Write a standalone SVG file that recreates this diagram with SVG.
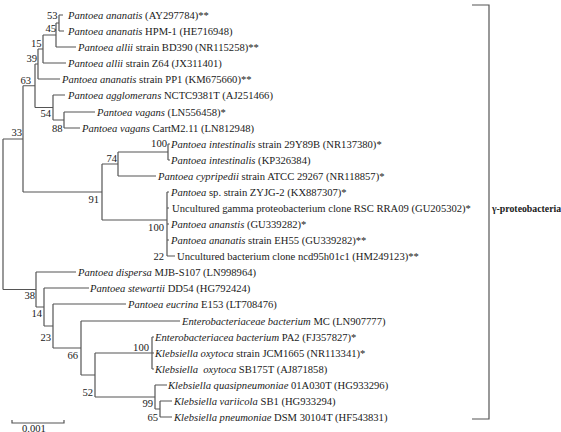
<svg xmlns="http://www.w3.org/2000/svg" width="561" height="432" viewBox="0 0 561 432">
<style>
text{font-family:"Liberation Serif","Times New Roman",serif;font-size:10.6px;fill:#1a1a1a}
.i{font-style:italic}
.bs{text-anchor:end}
.br{fill:none;stroke:#555;stroke-width:1.2}
.cl{font-weight:bold;font-size:9.8px}
</style>
<rect width="561" height="432" fill="#fff"/>
<g id="connectors" class="br">
<path d="M59,15V31M59,15H63M59,31H64"/>
<path d="M56,23V47M56,23H59M56,47H76"/>
<path d="M43,35V63M43,35H56M43,63H66"/>
<path d="M38,49V79M38,49H43M38,79H60"/>
<path d="M64,112V128M64,112H95M64,128H80"/>
<path d="M53,95V120M53,120H64M53,95H65"/>
<path d="M35,64V107.5M35,64H38M35,107.5H53"/>
<path d="M168,144V160M168,144H170M168,160H170"/>
<path d="M118,152V176M118,152H168M118,176H156"/>
<path d="M167,192V256M167,192H169M167,208H169M167,224H169M167,240H169M167,256H175"/>
<path d="M102,164V220M102,164H118M102,220H167"/>
<path d="M23,85.75V192M23,85.75H35M23,192H102"/>
<path d="M160,401V417M160,401H172M160,417H172"/>
<path d="M155,385V409M155,385H167M155,409H160"/>
<path d="M152,337V369M152,337H154M152,353H154M152,369H154"/>
<path d="M95,353V397M95,353H152M95,397H155"/>
<path d="M81,321V375M81,321H180M81,375H95"/>
<path d="M53,304V348M53,304H126M53,348H81"/>
<path d="M44,288V326M44,288H89M44,326H53"/>
<path d="M36,272V307M36,272H76M36,307H44"/>
<path d="M3,139V289.5M3,139H23M3,289.5H36"/>
<path d="M472,5H489V419H472"/>
<path d="M12,420V423H64V420"/>
</g>
<g id="bootstrap">
<text class="bs" x="57.5" y="18.5">53</text>
<text class="bs" x="56" y="31.5">45</text>
<text class="bs" x="41.5" y="46.5">15</text>
<text class="bs" x="37" y="61.5">39</text>
<text class="bs" x="31" y="83.5">63</text>
<text class="bs" x="51" y="116.5">54</text>
<text class="bs" x="62.5" y="131.5">88</text>
<text class="bs" x="22" y="135.5">33</text>
<text class="bs" x="167" y="146.5">100</text>
<text class="bs" x="117" y="161.5">74</text>
<text class="bs" x="99" y="202.5">91</text>
<text class="bs" x="164" y="230.5">100</text>
<text class="bs" x="164" y="259.5">22</text>
<text class="bs" x="35" y="298.5">38</text>
<text class="bs" x="42" y="316.5">14</text>
<text class="bs" x="51" y="340.5">23</text>
<text class="bs" x="78" y="358.5">66</text>
<text class="bs" x="149" y="350.5">100</text>
<text class="bs" x="93" y="395.5">52</text>
<text class="bs" x="153" y="406.5">99</text>
<text class="bs" x="158" y="420.5">65</text>
</g>
<g id="leaf1"><text x="68" y="18.5"><tspan class="i">Pantoea ananatis</tspan> (AY297784)**</text></g>
<g id="leaf2"><text x="68" y="34.5"><tspan class="i">Pantoea ananatis</tspan> HPM-1 (HE716948)</text></g>
<g id="leaf3"><text x="78" y="50.5"><tspan class="i">Pantoea allii</tspan> strain BD390 (NR115258)**</text></g>
<g id="leaf4"><text x="68" y="66.5"><tspan class="i">Pantoea allii</tspan> strain Z64 (JX311401)</text></g>
<g id="leaf5"><text x="62" y="82.5"><tspan class="i">Pantoea ananatis</tspan> strain PP1 (KM675660)**</text></g>
<g id="leaf6"><text x="68" y="98.5"><tspan class="i">Pantoea agglomerans</tspan> NCTC9381T (AJ251466)</text></g>
<g id="leaf7"><text x="97" y="115.5"><tspan class="i">Pantoea vagans</tspan> (LN556458)*</text></g>
<g id="leaf8"><text x="82" y="131.5"><tspan class="i">Pantoea vagans</tspan> CartM2.11 (LN812948)</text></g>
<g id="leaf9"><text x="171" y="147.5"><tspan class="i">Pantoea intestinalis</tspan> strain 29Y89B (NR137380)*</text></g>
<g id="leaf10"><text x="171" y="163.5"><tspan class="i">Pantoea intestinalis</tspan> (KP326384)</text></g>
<g id="leaf11"><text x="158" y="179.5"><tspan class="i">Pantoea cypripedii</tspan> strain ATCC 29267 (NR118857)*</text></g>
<g id="leaf12"><text x="171" y="195.5"><tspan class="i">Pantoea</tspan> sp. strain ZYJG-2 (KX887307)*</text></g>
<g id="leaf13"><text x="172" y="211.5">Uncultured gamma proteobacterium clone RSC RRA09 (GU205302)*</text></g>
<g id="leaf14"><text x="171" y="227.5"><tspan class="i">Pantoea ananstis</tspan> (GU339282)*</text></g>
<g id="leaf15"><text x="171" y="243.5"><tspan class="i">Pantoea ananatis</tspan> strain EH55 (GU339282)**</text></g>
<g id="leaf16"><text x="177" y="259.5">Uncultured bacterium clone ncd95h01c1 (HM249123)**</text></g>
<g id="leaf17"><text x="78" y="275.5"><tspan class="i">Pantoea dispersa</tspan> MJB-S107 (LN998964)</text></g>
<g id="leaf18"><text x="90" y="291.5"><tspan class="i">Pantoea stewartii</tspan> DD54 (HG792424)</text></g>
<g id="leaf19"><text x="128" y="307.5"><tspan class="i">Pantoea eucrina</tspan> E153 (LT708476)</text></g>
<g id="leaf20"><text x="182" y="324.5"><tspan class="i">Enterobacteriaceae bacterium</tspan> MC (LN907777)</text></g>
<g id="leaf21"><text x="155" y="340.5"><tspan class="i">Enterobacteriacea bacterium</tspan> PA2 (FJ357827)*</text></g>
<g id="leaf22"><text x="155" y="356.5"><tspan class="i">Klebsiella oxytoca</tspan> strain JCM1665 (NR113341)*</text></g>
<g id="leaf23"><text x="155" y="372.5" xml:space="preserve"><tspan class="i">Klebsiella  oxytoca</tspan> SB175T (AJ871858)</text></g>
<g id="leaf24"><text x="168" y="388.5"><tspan class="i">Klebsiella quasipneumoniae</tspan> 01A030T (HG933296)</text></g>
<g id="leaf25"><text x="174" y="404.5"><tspan class="i">Klebsiella variicola</tspan> SB1 (HG933294)</text></g>
<g id="leaf26"><text x="174" y="420.5"><tspan class="i">Klebsiella pneumoniae</tspan> DSM 30104T (HF543831)</text></g>
<g id="clade"><text class="cl" x="492" y="212">γ-proteobacteria</text></g>
<g id="scale"><text x="22" y="431.5">0.001</text></g>
</svg>
